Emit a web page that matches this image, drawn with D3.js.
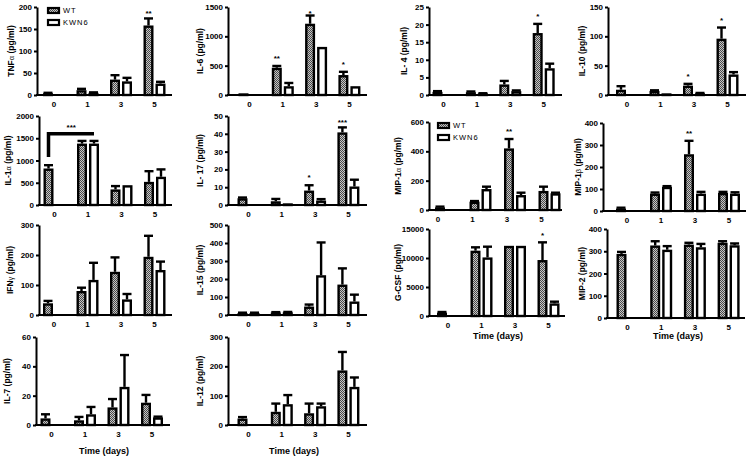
<!DOCTYPE html>
<html><head><meta charset="utf-8">
<script src="https://cdn.jsdelivr.net/npm/d3@7"></script>
<style>body{margin:0;background:#fff}svg text{font-family:"Liberation Sans",Arial,sans-serif}</style>
</head><body><svg id="c" width="748" height="459"></svg>
<script>
const days = ["0","1","3","5"];
const groups = ["WT","KWN6"];

// values (pg/ml): mean and upper SEM for WT and KWN6 at each day
const tnfWT=[4,11,35,158], tnfWTe=[1,3,10,16], tnfKO=[0,5,31,26], tnfKOe=[0,1,8,4];
const tnfTicks=[0,50,100,150,200];
const il6WT=[5,465,1215,340], il6WTe=[0,30,140,55], il6KO=[0,150,820,150], il6KOe=[0,55,0,0];
const il6Ticks=[0,500,1000,1500];
const il1aWT=[820,1380,350,520], il1aWTe=[75,60,75,240], il1aKO=[0,1380,445,635], il1aKOe=[0,60,0,165];
const il1aTicks=[0,500,1000,1500,2000];
const il17WT=[3.8,2.1,8.1,40.8], il17WTe=[0.4,1.3,3,2.8], il17KO=[0,0.8,2.5,10.4], il17KOe=[0,0,0.8,3.8];
const il17Ticks=[0,10,20,30,40,50];
const ifngWT=[39,80,144,194], ifngWTe=[8,11,48,70], ifngKO=[0,117,52,150], ifngKOe=[0,57,18,28];
const ifngTicks=[0,100,200,300];
const il15WT=[11,14,47,169], il15WTe=[2,2,11,90], il15KO=[11,15,221,75], il15KOe=[2,2,182,38];
const il15Ticks=[0,100,200,300,400,500];
const il7WT=[4.5,3.2,12,15.2], il7WTe=[2.8,2.3,5.7,5.3], il7KO=[0,7.3,26,5.2], il7KOe=[0,5,21.7,0.5];
const il7Ticks=[0,20,40,60];
const il12WT=[22,45,40,186], il12WTe=[5,28,33,63], il12KO=[0,71,64,130], il12KOe=[0,31,9,32];
const il12Ticks=[0,100,200,300];
const il4WT=[0.9,0.8,3.0,17.6], il4WTe=[0.2,0.2,1.0,2.6], il4KO=[0,0.4,1.1,7.6], il4KOe=[0,0.1,0.2,1.3];
const il4Ticks=[0,5,10,15,20,25];
const il10WT=[9,7,16,96], il10WTe=[6,1,3,19], il10KO=[0,1,3,35], il10KOe=[0,0,0.5,4];
const il10Ticks=[0,50,100,150];
const mip1aWT=[18,57,420,130], mip1aWTe=[5,4,64,29], mip1aKO=[0,143,102,114], mip1aKOe=[0,16,16,4];
const mip1aTicks=[0,200,400,600];
const mip1bWT=[11,79,258,82], mip1bWTe=[4,5,61,5], mip1bKO=[0,110,79,79], mip1bKOe=[0,3,8,6];
const mip1bTicks=[0,100,200,300,400];
const gcsfWT=[575,11260,12100,9650], gcsfWTe=[115,580,0,3050], gcsfKO=[0,10100,12100,2180], gcsfKOe=[0,1850,0,290];
const gcsfTicks=[0,5000,10000,15000];
const mip2WT=[288,326,330,338], mip2WTe=[9,19,8,7], mip2KO=[0,307,318,327], mip2KOe=[0,16,15,8];
const mip2Ticks=[0,100,200,300,400];

// significance marks: [day index, series, text]
const tnfStars=[[3,"WT","**"]];
const il6Stars=[[1,"WT","**"],[2,"WT","*"],[3,"WT","*"]];
const il17Stars=[[2,"WT","*"],[3,"WT","***"]];
const il4Stars=[[3,"WT","*"]];
const il10Stars=[[2,"WT","*"],[3,"WT","*"]];
const mip1aStars=[[2,"WT","**"]];
const mip1bStars=[[2,"WT","**"]];
const gcsfStars=[[3,"WT","*"]];
// IL-1α bracket: from day0 WT to day1 KWN6, bar level and foot in pg/ml
const il1aBracket={from:[0,"WT"],to:[1,"KWN6"],level:1600,foot:1080,text:"***"};

const panels=[
 {t:"TNF",gr:"α",wt:tnfWT,wte:tnfWTe,ko:tnfKO,koe:tnfKOe,ticks:tnfTicks,stars:tnfStars},
 {t:"IL-6",gr:"",wt:il6WT,wte:il6WTe,ko:il6KO,koe:il6KOe,ticks:il6Ticks,stars:il6Stars},
 {t:"IL-1",gr:"α",wt:il1aWT,wte:il1aWTe,ko:il1aKO,koe:il1aKOe,ticks:il1aTicks,stars:[],bracket:il1aBracket},
 {t:"IL- 17",gr:"",wt:il17WT,wte:il17WTe,ko:il17KO,koe:il17KOe,ticks:il17Ticks,stars:il17Stars},
 {t:"IFN",gr:"γ",wt:ifngWT,wte:ifngWTe,ko:ifngKO,koe:ifngKOe,ticks:ifngTicks,stars:[]},
 {t:"IL-15",gr:"",wt:il15WT,wte:il15WTe,ko:il15KO,koe:il15KOe,ticks:il15Ticks,stars:[]},
 {t:"IL-7",gr:"",wt:il7WT,wte:il7WTe,ko:il7KO,koe:il7KOe,ticks:il7Ticks,stars:[]},
 {t:"IL-12",gr:"",wt:il12WT,wte:il12WTe,ko:il12KO,koe:il12KOe,ticks:il12Ticks,stars:[]},
 {t:"IL- 4",gr:"",wt:il4WT,wte:il4WTe,ko:il4KO,koe:il4KOe,ticks:il4Ticks,stars:il4Stars},
 {t:"IL-10",gr:"",wt:il10WT,wte:il10WTe,ko:il10KO,koe:il10KOe,ticks:il10Ticks,stars:il10Stars},
 {t:"MIP-1",gr:"α",wt:mip1aWT,wte:mip1aWTe,ko:mip1aKO,koe:mip1aKOe,ticks:mip1aTicks,stars:mip1aStars},
 {t:"MIP-1",gr:"β",wt:mip1bWT,wte:mip1bWTe,ko:mip1bKO,koe:mip1bKOe,ticks:mip1bTicks,stars:mip1bStars},
 {t:"G-CSF",gr:"",wt:gcsfWT,wte:gcsfWTe,ko:gcsfKO,koe:gcsfKOe,ticks:gcsfTicks,stars:gcsfStars},
 {t:"MIP-2",gr:"",wt:mip2WT,wte:mip2WTe,ko:mip2KO,koe:mip2KOe,ticks:mip2Ticks,stars:[]}
];

// layout (pixels)
const layout=[
 {ax:37,top:7,base:95,xEnd:172,c0:54,step:33.5,lx:11},
 {ax:228,top:7,base:95,xEnd:367,c0:249.5,step:33.3,lx:200},
 {ax:39,top:116,base:205,xEnd:172,c0:54.5,step:33.5,lx:8},
 {ax:228,top:116,base:205,xEnd:367,c0:248.5,step:33.3,lx:200},
 {ax:39,top:225,base:315,xEnd:172,c0:54,step:33.5,lx:10},
 {ax:228,top:225,base:315,xEnd:367,c0:248.5,step:33.3,lx:200},
 {ax:36,top:337,base:425,xEnd:170,c0:51.5,step:33.5,lx:7,time:[104,451]},
 {ax:228,top:337,base:425,xEnd:367,c0:248.5,step:33.3,lx:200,time:[294,451]},
 {ax:429,top:7,base:95,xEnd:562,c0:443.5,step:33.4,lx:404},
 {ax:608,top:7,base:95,xEnd:746,c0:627,step:33.5,lx:582},
 {ax:429,top:122,base:210,xEnd:562,c0:446,step:34.5,lx:398,tdx:-8},
 {ax:603,top:123,base:211,xEnd:746,c0:627,step:34,lx:578},
 {ax:429,top:229,base:316,xEnd:565,c0:448,step:33.5,lx:398,time:[498,336]},
 {ax:607,top:229,base:318,xEnd:745,c0:627.5,step:33.7,lx:582,time:[678,336]}
];
const legends=[{x:47,y:[7,19]},{x:437,y:[122,134]}];

const svg=d3.select("#c");
const pat=svg.append("defs").append("pattern").attr("id","hatch")
  .attr("patternUnits","userSpaceOnUse").attr("width",2).attr("height",2);
pat.append("rect").attr("width",2).attr("height",2).attr("fill","#c6c6c6");
pat.append("rect").attr("width",1).attr("height",1).attr("fill","#4a4a4a");
pat.append("rect").attr("x",1).attr("y",1).attr("width",1).attr("height",1).attr("fill","#4a4a4a");

const SW=2.4;
const FONT='"Liberation Sans",Arial,sans-serif';

panels.forEach((p,pi)=>{
  const L=layout[pi];
  const g=svg.append("g");
  const y=d3.scaleLinear().domain([0,p.ticks[p.ticks.length-1]]).range([L.base,L.top]);
  const x=d3.scaleBand().domain(days).range([L.c0-L.step/2,L.c0+3.5*L.step]).paddingInner(0).paddingOuter(0);
  const xs=d3.scaleBand().domain(groups).range([-11,11]).paddingInner(1/6);
  const barX=(d,s)=>x(d)+x.bandwidth()/2+xs(s);
  const barC=(d,s)=>barX(d,s)+xs.bandwidth()/2;
  const rows=[];
  days.forEach((d,i)=>{
    rows.push({d,s:"WT",v:p.wt[i],e:p.wte[i]});
    rows.push({d,s:"KWN6",v:p.ko[i],e:p.koe[i]});
  });
  const vis=rows.filter(r=>r.v>0);
  // error bars (upper only)
  vis.filter(r=>r.e>0).forEach(r=>{
    const cx=barC(r.d,r.s), yt=y(r.v+r.e);
    g.append("line").attr("x1",cx).attr("x2",cx).attr("y1",y(r.v)).attr("y2",yt)
      .attr("stroke","#000").attr("stroke-width",SW);
    g.append("line").attr("x1",cx-4.5).attr("x2",cx+4.5).attr("y1",yt).attr("y2",yt)
      .attr("stroke","#000").attr("stroke-width",SW);
  });
  g.selectAll("rect.bar").data(vis).join("rect").attr("class","bar")
    .attr("x",r=>barX(r.d,r.s)+SW/2)
    .attr("y",r=>Math.min(y(r.v)+SW/2,L.base-0.5))
    .attr("width",xs.bandwidth()-SW)
    .attr("height",r=>Math.max(0.5,L.base-y(r.v)-SW/2))
    .attr("fill",r=>r.s==="WT"?"url(#hatch)":"#fff")
    .attr("stroke","#000").attr("stroke-width",SW);
  // y axis
  const ya=d3.axisLeft(y).tickValues(p.ticks).tickSize(3).tickSizeOuter(0).tickPadding(2).tickFormat(d3.format("d"));
  const yg=g.append("g").attr("transform",`translate(${L.ax},0)`).call(ya)
    .attr("font-size",8).attr("font-family",FONT).attr("font-weight","bold");
  yg.select(".domain").attr("stroke-width",2);
  yg.selectAll(".tick line").attr("stroke-width",2);
  // x axis
  g.append("line").attr("x1",L.ax-1).attr("x2",L.xEnd).attr("y1",L.base).attr("y2",L.base)
    .attr("stroke","#000").attr("stroke-width",2);
  const xa=d3.axisBottom(x).tickSize(0).tickPadding(6);
  const xg=g.append("g").attr("transform",`translate(0,${L.base})`).call(xa)
    .attr("font-size",8).attr("font-family",FONT).attr("font-weight","bold");
  xg.select(".domain").remove();
  if(L.tdx) xg.selectAll("text").attr("dx",L.tdx);
  // y title
  const tt=g.append("text").attr("transform",`translate(${L.lx},${(L.top+L.base)/2}) rotate(-90)`)
    .attr("text-anchor","middle").attr("dominant-baseline","central")
    .attr("font-size",8.5).attr("font-weight","bold");
  tt.append("tspan").text(p.t);
  if(p.gr) tt.append("tspan").attr("font-weight","normal").attr("font-size",7.5).text(p.gr);
  tt.append("tspan").text(" (pg/ml)");
  // stars
  p.stars.forEach(([i,s,txt])=>{
    const d=days[i];
    const idx=i;
    const v=(s==="WT"?p.wt[idx]+p.wte[idx]:p.ko[idx]+p.koe[idx]);
    const sy=Math.max(y(v)-9,L.top+5);
    g.append("text").attr("x",barC(d,s)).attr("y",sy+4).attr("text-anchor","middle")
      .attr("font-size",8).attr("font-weight","bold").text(txt);
  });
  if(p.bracket){
    const b=p.bracket;
    const x1=barC(days[b.from[0]],b.from[1]), x2=barC(days[b.to[0]],b.to[1]);
    g.append("path").attr("d",`M${x1},${y(b.foot)}V${y(b.level)}H${x2}`)
      .attr("fill","none").attr("stroke","#000").attr("stroke-width",3.5);
    g.append("text").attr("x",(x1+x2)/2).attr("y",y(b.level)-4).attr("text-anchor","middle")
      .attr("font-size",8).attr("font-weight","bold").text(b.text);
  }
  if(L.time){
    g.append("text").attr("x",L.time[0]).attr("y",L.time[1]).attr("dominant-baseline","central")
      .attr("text-anchor","middle").attr("font-size",9).attr("font-weight","bold").text("Time (days)");
  }
});

legends.forEach(lg=>{
  const g=svg.append("g");
  groups.forEach((s,i)=>{
    g.append("rect").attr("x",lg.x+1).attr("y",lg.y[i]+1).attr("width",11).attr("height",5)
      .attr("fill",s==="WT"?"url(#hatch)":"#fff").attr("stroke","#000").attr("stroke-width",2.2);
    g.append("text").attr("x",lg.x+16).attr("y",lg.y[i]+3.5).attr("dominant-baseline","central")
      .attr("font-size",7.5).attr("letter-spacing",1).text(s);
  });
});
</script></body></html>
